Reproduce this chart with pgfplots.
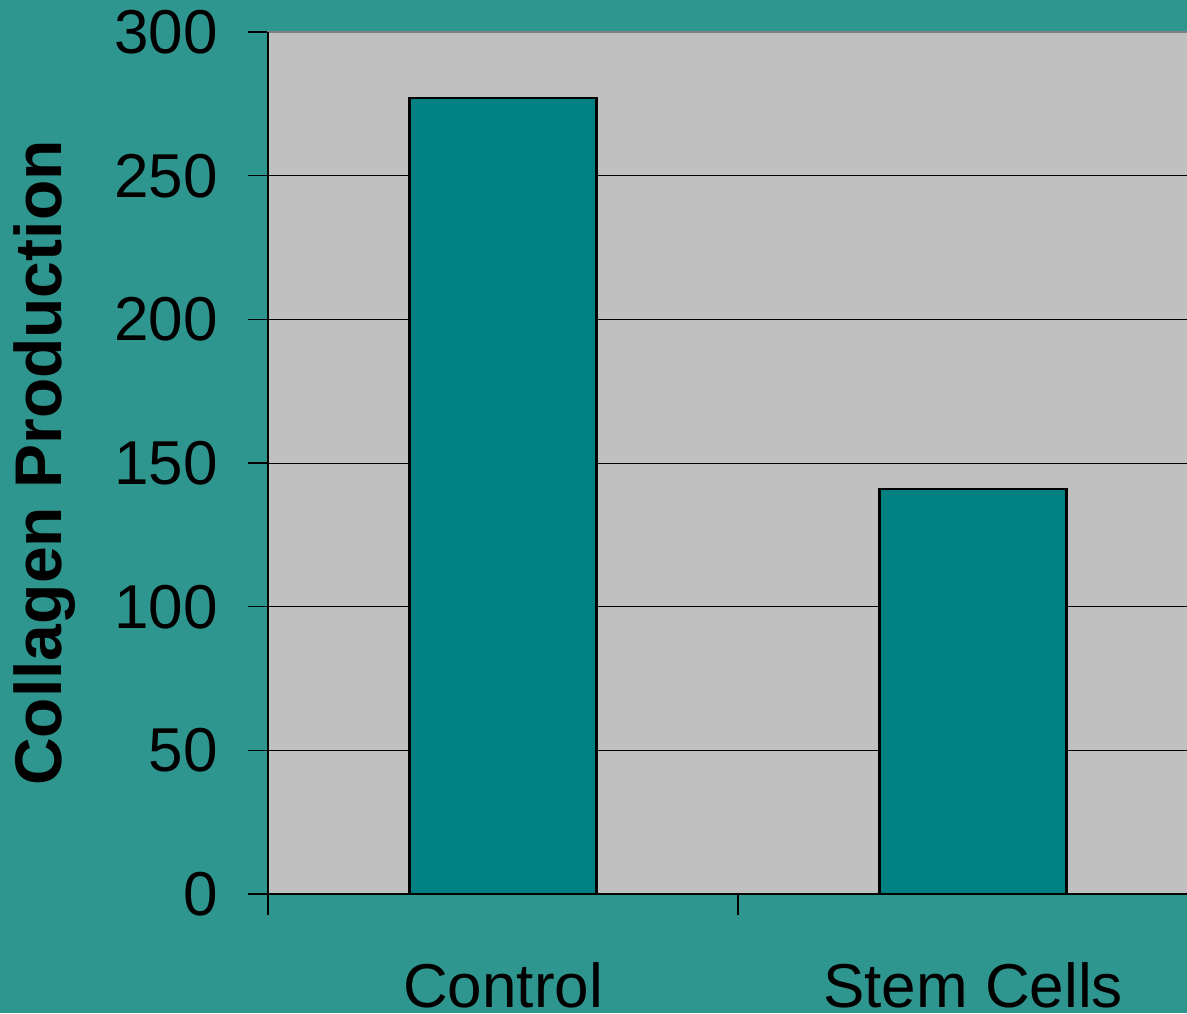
\documentclass[border=0pt]{standalone}
\usepackage{pgfplots}
\pgfplotsset{compat=1.18}
\usepackage{fontspec}
\setmainfont{Liberation Sans}

\definecolor{slidebg}{RGB}{46,150,143}
\definecolor{plotbg}{RGB}{192,192,192}
\definecolor{barfill}{RGB}{0,128,128}

\begin{document}
\begin{tikzpicture}
  % slide background, also the page extent
  \path[use as bounding box, fill=slidebg] (0,0) rectangle (593.5pt,506.5pt);
  \begin{axis}[
    at={(134pt,59.5pt)}, anchor=south west,
    scale only axis,
    width=470pt, height=431pt,
    xmin=-0.5, xmax=1.5,
    ymin=0, ymax=300,
    axis background/.style={fill=plotbg},
    axis line style={draw=gray, line width=0.6pt},
    ytick={0,50,...,300},
    ymajorgrids,
    grid style={black, line width=0.4pt},
    tick align=outside,
    major tick length=10pt,
    minor tick length=10.5pt,
    tick style={black, line width=0.6pt},
    xtick={0,1},
    xticklabels={Control, Stem Cells},
    major x tick style={draw=none},
    minor xtick={-0.5,0.5,1.5},
    ytick pos=left,
    xtick pos=bottom,
    /pgf/number format/assume math mode=true,
    ticklabel style={font=\fontsize{31}{37}\selectfont},
    yticklabel style={anchor=east, xshift=-11.5pt},
    xticklabel style={anchor=base, yshift=-46.5pt},
    ylabel={Collagen Production},
    ylabel style={font=\fontsize{33}{40}\selectfont\bfseries,
                  at={(axis description cs:-0.2372,0.5)}, anchor=center},
    clip=false,
  ]
    \addplot[ybar, bar width=93.5pt, fill=barfill, draw=black, line width=1.1pt]
      coordinates {(0,277) (1,141)};
    % left and bottom axis lines in black
    \draw[black, line width=0.6pt] (axis cs:-0.5,300) -- (axis cs:-0.5,0) -- (axis cs:1.5,0);
  \end{axis}
\end{tikzpicture}
\end{document}
